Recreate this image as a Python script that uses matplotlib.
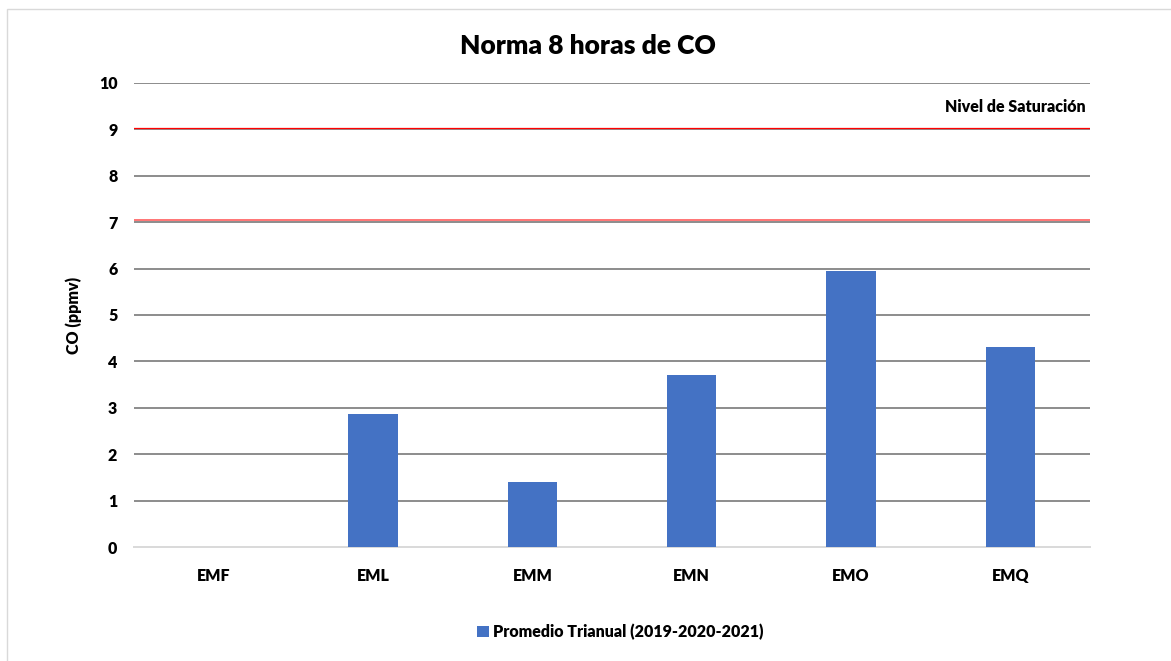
import numpy as np
import matplotlib
matplotlib.use('Agg')
import matplotlib.pyplot as plt
from matplotlib.patches import Rectangle

plt.rcParams['font.family'] = ['Lato', 'DejaVu Sans']
plt.rcParams['font.weight'] = 'heavy'
W = 'heavy'

estaciones = ['EMF', 'EML', 'EMM', 'EMN', 'EMO', 'EMQ']
promedio = [0.0, 2.86, 1.41, 3.70, 5.95, 4.32]
norma = 9.04
limite = 7.04
serie = 'Promedio Trianual (2019-2020-2021)'

fig = plt.figure(figsize=(11.71, 6.61), dpi=100)
fig.patches.append(Rectangle((7/1171, -0.1), 1.2, 1 - 9/661 + 0.1, transform=fig.transFigure,
                             fill=False, edgecolor='#d9d9d9', linewidth=1))
ax = fig.add_axes([134/1171, 1 - 547/661, 956/1171, 464/661])

x = np.arange(len(estaciones))
ax.bar(x, promedio, width=0.31, color='#4472c4', label=serie, zorder=3)

ax.set_ylim(0, 10)
ax.set_xlim(-0.5, len(estaciones) - 0.5)
ax.set_yticks(range(0, 11))
ax.set_xticks(x)
ax.set_xticklabels(estaciones)
ax.tick_params(length=0, labelsize=11.5, pad=12)
ax.tick_params(axis='x', pad=15)
for lab in ax.get_xticklabels() + ax.get_yticklabels():
    lab.set_fontweight(W)

ax.grid(axis='y', color='#8c8c8c', linewidth=1.4, zorder=0)
ax.get_ygridlines()[0].set_visible(False)
ax.set_axisbelow(True)
for s in ['top', 'right', 'left']:
    ax.spines[s].set_visible(False)
ax.spines['bottom'].set_color('#d9d9d9')
ax.spines['bottom'].set_linewidth(1.4)

ax.axhline(norma, color='#ff0000', linewidth=0.9, zorder=2)
ax.axhline(limite, color='#ff5050', linewidth=1.1, zorder=2)
ax.text(len(estaciones) - 0.53, 9.48, 'Nivel de Saturación', ha='right', va='center',
        fontsize=11.5, fontweight=W)

fig.text(588/1171, 1 - 46/661, 'Norma 8 horas de CO', ha='center', va='center',
         fontsize=19, fontweight=W)
ax.set_ylabel('CO (ppmv)', fontsize=11.5, fontweight=W, labelpad=12)

fig.legend(loc='center', bbox_to_anchor=(0.53, 1 - 632/661), frameon=False,
           handlelength=0.7, handleheight=0.7, handletextpad=0.3,
           prop={'weight': W, 'size': 11.5})

plt.savefig('out.png', dpi=100)
